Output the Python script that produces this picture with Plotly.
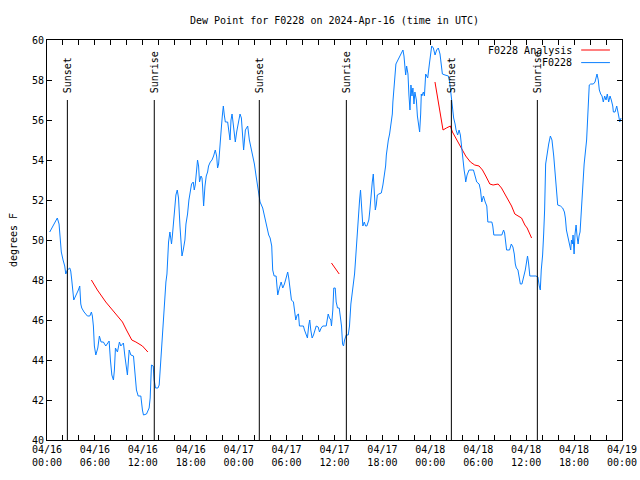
import pandas as pd
import plotly.graph_objects as go

# ---------------- data ----------------
start = pd.Timestamp("2024-04-16 00:00")

# F0228 observed dew point (hours after 2024-04-16 00:00 UTC, degrees F)
obs_hours = [0.34,1.29,1.51,1.63,1.79,2.01,2.22,2.35,2.55,2.85,2.97,3.10,3.26,3.35,3.93,4.10,4.23,4.35,4.64,5.06,5.36,5.56,5.68,5.81,5.93,6.11,6.36,6.56,6.77,7.06,7.36,7.56,7.78,7.94,8.12,8.32,8.44,8.57,8.82,9.07,9.24,9.45,9.57,9.75,9.95,10.07,10.29,10.50,10.83,11.00,11.20,11.42,11.75,11.95,12.08,12.46,12.63,12.79,12.92,13.08,13.30,13.42,13.59,13.89,14.05,14.17,14.30,14.46,14.59,14.71,14.89,15.02,15.09,15.22,15.39,15.59,15.72,15.89,16.02,16.14,16.31,16.47,16.65,16.81,16.90,17.06,17.27,17.40,17.60,17.77,17.94,18.10,18.31,18.44,18.56,18.69,18.85,18.98,19.10,19.28,19.41,19.48,19.61,19.78,19.94,20.11,20.23,20.45,20.66,20.86,21.07,21.24,21.36,21.49,21.61,21.70,21.83,21.95,22.08,22.20,22.33,22.62,22.79,22.92,23.04,23.17,23.29,23.42,23.58,23.75,23.92,24.17,24.34,24.50,24.62,24.84,25.13,25.34,25.50,25.75,25.97,26.18,26.38,26.51,26.68,27.01,27.26,27.51,27.76,27.94,28.14,28.26,28.44,28.69,28.76,28.89,29.10,29.32,29.52,29.73,29.94,30.14,30.27,30.44,30.61,30.86,30.98,31.15,31.32,31.49,31.61,32.11,32.24,32.45,32.61,32.78,32.90,33.03,33.20,33.37,33.53,33.71,33.96,34.12,34.33,34.53,34.96,35.09,35.21,35.37,35.54,35.62,35.79,35.91,36.09,36.21,36.38,36.59,36.72,36.88,37.01,37.13,37.26,37.47,37.72,37.88,38.05,38.22,38.35,38.51,38.60,38.72,38.85,38.97,39.14,39.26,39.39,39.55,39.73,39.89,40.05,40.30,40.43,40.56,40.73,40.86,40.98,41.11,41.23,41.36,41.56,41.86,42.06,42.24,42.40,42.49,42.61,42.74,42.90,43.06,43.24,43.31,43.44,43.57,43.69,43.94,44.16,44.37,44.57,44.70,44.82,44.91,45.03,45.20,45.32,45.45,45.57,45.70,45.82,45.95,46.07,46.25,46.38,46.54,46.66,46.79,46.87,46.93,47.13,47.26,47.42,47.67,47.88,48.09,48.17,48.38,48.59,48.79,49.00,49.21,49.34,49.51,49.84,50.09,50.26,50.42,50.59,50.76,50.92,51.10,51.22,51.42,51.60,51.76,51.93,52.05,52.23,52.35,52.43,52.60,52.85,53.40,53.52,53.81,54.11,54.28,54.44,54.65,54.87,55.07,55.20,55.70,55.82,55.95,56.95,57.17,57.30,57.42,57.55,57.92,58.14,58.34,58.51,58.64,58.77,58.97,59.15,59.27,59.47,59.68,59.89,60.05,60.17,60.30,60.46,61.22,61.47,61.64,61.77,61.89,62.06,62.19,62.31,62.44,62.61,62.82,63.03,63.23,63.45,63.66,63.82,63.95,64.29,64.57,64.79,64.91,65.04,65.20,65.33,65.45,65.58,65.67,65.79,65.87,66.00,66.12,66.25,66.37,66.50,66.62,66.75,66.87,67.00,67.11,67.26,67.57,67.78,67.90,68.08,68.41,68.62,68.74,68.87,69.03,69.16,69.33,69.50,69.66,69.83,70.00,70.16,70.33,70.50,70.66,70.84,70.92,71.13,71.34,71.47,71.59,71.72,71.88]
obs_dewpt = [50.4,51.1,50.8,49.9,49.4,49.0,48.7,48.3,48.5,48.6,48.45,48.0,47.2,47.0,47.5,47.7,46.8,46.6,46.4,46.2,46.2,46.4,46.2,45.7,44.7,44.25,44.6,45.2,44.9,44.9,44.7,44.8,44.95,44.0,43.25,43.0,43.5,44.6,44.4,44.9,44.7,44.8,44.85,44.2,43.7,43.25,44.5,44.25,44.2,43.5,42.5,42.2,42.2,41.5,41.25,41.3,41.5,41.6,42.1,43.75,43.7,43.0,42.6,42.6,42.75,43.5,44.5,45.5,46.3,47.1,47.9,48.3,48.9,49.9,50.4,49.8,50.3,51.0,51.7,52.25,52.5,52.1,50.7,49.7,49.2,49.5,50.0,50.8,51.3,52.0,52.5,52.8,52.9,52.5,52.75,53.4,54.0,53.7,52.9,53.2,53.1,52.7,51.7,52.7,53.2,53.4,53.7,53.9,54.0,54.2,54.5,54.2,53.6,53.8,54.3,54.9,55.6,56.2,56.7,56.25,55.9,55.9,55.25,55.0,56.0,56.3,55.9,55.4,54.9,55.4,55.8,56.3,56.1,55.2,54.5,55.5,55.7,55.0,54.7,54.3,53.8,53.2,52.7,52.3,51.9,51.6,51.1,50.6,50.25,50.1,49.7,48.5,48.2,48.2,47.7,47.25,47.6,47.9,47.6,47.8,48.1,48.4,48.1,47.4,47.0,46.9,46.5,46.0,46.25,46.3,45.7,45.7,45.5,45.25,45.1,45.75,46.0,45.5,45.1,45.25,45.5,45.7,45.65,45.4,45.6,45.7,45.7,46.2,46.3,46.1,46.0,45.7,46.5,47.6,47.6,46.9,46.6,46.6,46.25,45.7,44.8,44.7,45.0,45.25,45.25,45.7,46.8,47.3,47.9,48.3,48.8,49.6,50.1,50.7,52.0,52.5,51.5,50.7,50.9,50.7,50.7,51.0,51.5,52.2,52.9,53.3,52.0,51.5,51.75,52.25,52.3,52.35,52.75,53.2,53.7,54.25,54.75,55.0,55.3,55.8,56.3,56.9,57.5,58.1,58.8,59.0,59.2,59.3,59.5,59.2,58.75,58.25,58.7,58.3,57.25,56.5,57.75,57.2,57.6,56.8,57.4,57.0,56.2,55.75,55.4,56.3,57.3,57.2,57.4,57.2,58.3,58.1,58.8,59.5,59.7,59.6,59.25,59.5,59.6,59.3,58.9,58.3,58.25,58.2,58.2,57.9,57.2,56.5,56.1,55.8,55.5,55.25,55.5,55.25,54.5,54.2,53.5,53.2,52.9,53.25,53.5,53.5,53.35,52.9,52.8,52.5,51.9,52.2,51.9,51.7,50.9,50.9,50.7,50.25,50.25,50.5,50.35,49.75,49.5,49.5,49.8,49.65,49.3,48.8,48.6,48.5,48.0,47.8,47.8,48.1,48.5,48.9,49.2,48.85,48.2,48.2,48.15,47.7,47.5,48.5,49.25,50.3,51.5,53.8,54.3,54.8,55.2,55.0,54.2,53.2,52.5,51.75,51.7,51.6,51.4,51.1,50.5,50.2,49.8,49.6,49.5,50.0,49.8,50.25,49.3,50.3,50.75,50.2,49.8,50.2,50.4,51.2,52.0,53.2,53.8,55.0,56.7,57.75,57.8,57.8,57.9,58.2,58.3,58.0,57.5,57.3,57.2,56.9,57.2,57.0,57.3,56.9,57.2,57.0,56.7,56.4,56.4,56.7,56.5,56.2,55.9,56.1]

# F0228 Analysis (three separate segments)
ana1_hours = [5.56,6.31,7.36,8.62,9.45,9.95,10.29,10.62,11.13,11.54,11.95,12.63]
ana1_dewpt = [48.0,47.5,46.9,46.3,45.9,45.5,45.2,45.0,44.9,44.8,44.7,44.4]
ana2_hours = [35.62,36.59]
ana2_dewpt = [48.85,48.3]
ana3_hours = [48.58,48.83,49.05,49.26,49.42,49.59,50.01,50.51,50.77,51.18,51.60,52.02,52.43,53.02,53.56,54.10,54.53,54.94,55.45,55.86,56.49,56.91,57.33,57.74,58.17,58.58,59.00,59.42,59.84,60.12,60.68]
ana3_dewpt = [57.9,57.3,56.75,56.25,55.9,55.5,55.6,55.7,55.4,55.1,54.75,54.5,54.2,53.9,53.75,53.7,53.5,53.2,52.8,52.75,52.8,52.6,52.3,52.0,51.7,51.3,51.2,51.1,50.75,50.6,50.1]

sun_times = ["2024-04-16 02:33", "2024-04-16 13:26", "2024-04-17 02:35",
             "2024-04-17 13:29", "2024-04-18 02:38", "2024-04-18 13:24"]
sun_labels = ["Sunset", "Sunrise", "Sunset", "Sunrise", "Sunset", "Sunrise"]
sun_line_top = 57

y_range = [40, 60]
x_range = ["2024-04-16 00:00", "2024-04-19 00:00"]
title_text = "Dew Point for F0228 on 2024-Apr-16 (time in UTC)"
y_title = "degrees F"

# ---------------- figure ----------------
def to_time(hours):
    return start + pd.to_timedelta(hours, unit="h")

BLUE = "#0a7fff"
RED = "#ff0000"
FONT = "DejaVu Sans Mono"

ana_x = list(to_time(ana1_hours)) + [None] + list(to_time(ana2_hours)) + [None] + list(to_time(ana3_hours))
ana_y = ana1_dewpt + [None] + ana2_dewpt + [None] + ana3_dewpt

fig = go.Figure()
fig.add_trace(go.Scatter(x=ana_x, y=ana_y, mode="lines", name="F0228 Analysis",
                         line=dict(color=RED, width=1), connectgaps=False))
fig.add_trace(go.Scatter(x=to_time(obs_hours), y=obs_dewpt, mode="lines", name="F0228",
                         line=dict(color=BLUE, width=1)))

shapes = []
annotations = []
for t, lab in zip(sun_times, sun_labels):
    shapes.append(dict(type="line", xref="x", yref="y", x0=t, x1=t, y0=y_range[0], y1=sun_line_top,
                       line=dict(color="black", width=1)))
    annotations.append(dict(x=t, y=sun_line_top, xref="x", yref="y", text=lab, textangle=-90,
                            showarrow=False, xanchor="center", yanchor="bottom", yshift=5,
                            font=dict(family=FONT, size=10, color="black")))

# gnuplot-style key: right-aligned text with line sample to the right
key_rows = [("F0228 Analysis", RED, 0.975), ("F0228", BLUE, 0.9435)]
for text, col, yy in key_rows:
    annotations.append(dict(x=0.917, y=yy, xref="paper", yref="paper", text=text, showarrow=False,
                            xanchor="right", yanchor="middle",
                            font=dict(family=FONT, size=10, color="black")))
    shapes.append(dict(type="line", xref="paper", yref="paper", x0=0.929, x1=0.979, y0=yy, y1=yy,
                       line=dict(color=col, width=1)))

fig.update_layout(
    width=640, height=480, autosize=False,
    margin=dict(l=47, r=18, t=40, b=40, autoexpand=False),
    paper_bgcolor="white", plot_bgcolor="white",
    font=dict(family=FONT, size=10, color="black"),
    showlegend=False,
    title=dict(text=title_text, x=0.5, xref="paper", xanchor="center",
               y=1 - 20 / 480, yref="container", yanchor="middle",
               font=dict(family=FONT, size=10, color="black")),
    shapes=shapes, annotations=annotations,
)
fig.update_xaxes(range=x_range, type="date", showgrid=False, zeroline=False, automargin=False,
                 showline=True, linecolor="black", linewidth=1, mirror="ticks",
                 ticks="inside", ticklen=5, tickcolor="black",
                 tick0="2024-04-16 00:00", dtick=6 * 3600 * 1000,
                 tickformat="%m/%d<br>%H:%M",
                 minor=dict(dtick=2 * 3600 * 1000, ticks="inside", ticklen=5, tickcolor="black", showgrid=False))
fig.update_yaxes(range=y_range, showgrid=False, zeroline=False, automargin=False,
                 showline=True, linecolor="black", linewidth=1, mirror="ticks",
                 ticks="inside", ticklen=5, tickcolor="black", dtick=2,
                 title=dict(text=y_title, standoff=12, font=dict(family=FONT, size=10)))

fig.write_html("out.html", config={"displayModeBar": False},
               post_script="document.body.style.margin='0';")
